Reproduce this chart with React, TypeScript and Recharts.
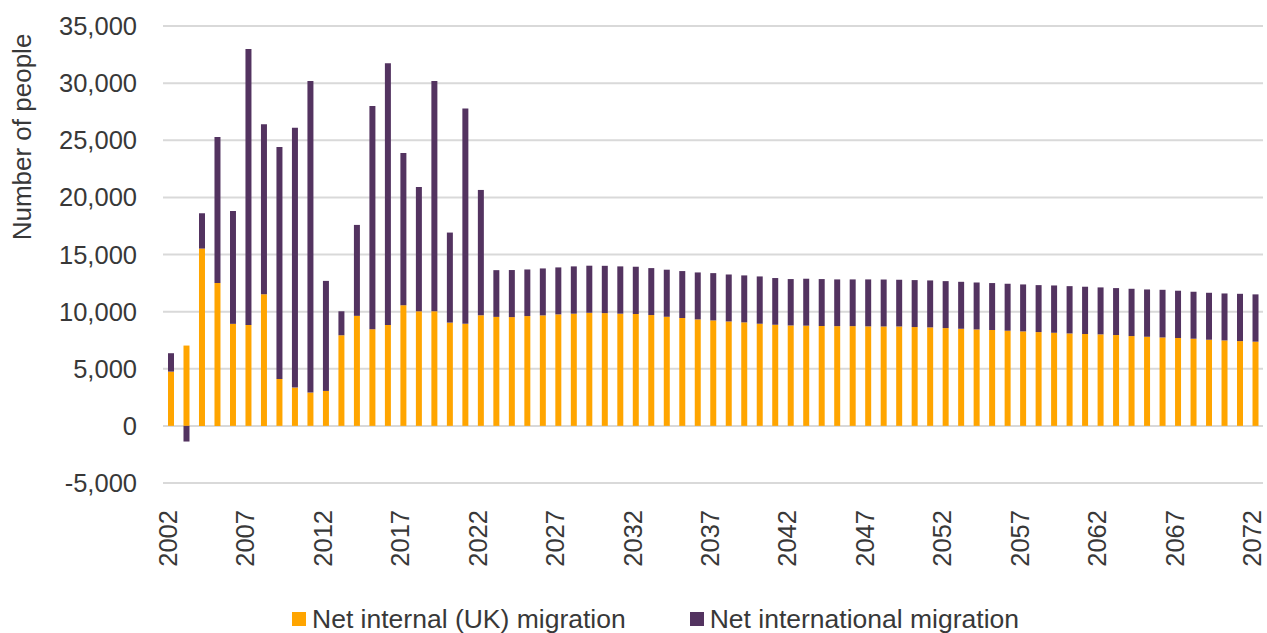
import React from 'react';
import {
  BarChart,
  Bar,
  XAxis,
  YAxis,
  CartesianGrid,
  Legend,
} from 'recharts';

const firstYear = 2002;
const lastYear = 2072;
const years = Array.from({ length: lastYear - firstYear + 1 }, (_, i) => String(firstYear + i));

// Net internal (UK) migration, 2002-2072
const internal = [
  4750, 7030, 15520, 12510, 8930, 8840, 11520, 4110, 3350, 2920,
  3060, 7930, 9630, 8460, 8840, 10560, 10030, 10030, 9040, 8930,
  9680, 9540, 9520, 9610, 9670, 9760, 9820, 9900, 9870, 9820,
  9790, 9700, 9550, 9440, 9320, 9230, 9140, 9060, 8940, 8850,
  8790, 8770, 8740, 8730, 8730, 8710, 8700, 8700, 8650, 8620,
  8560, 8500, 8440, 8390, 8330, 8270, 8210, 8150, 8090, 8040,
  8010, 7950, 7860, 7800, 7740, 7690, 7630, 7540, 7480, 7420,
  7370,
];

// Net international migration, 2002-2072
const international = [
  1610, -1370, 3090, 12780, 9880, 24150, 14880, 20300, 22750, 27270,
  9630, 2100, 7960, 19540, 22890, 13330, 10880, 20160, 7880, 18840,
  10970, 4090, 4120, 4080, 4110, 4110, 4140, 4120, 4140, 4140,
  4140, 4110, 4120, 4110, 4110, 4140, 4110, 4110, 4140, 4090,
  4060, 4110, 4110, 4090, 4090, 4110, 4110, 4090, 4110, 4110,
  4110, 4110, 4110, 4110, 4110, 4110, 4110, 4140, 4140, 4140,
  4110, 4110, 4140, 4140, 4170, 4140, 4110, 4110, 4110, 4140,
  4140,
];

const yTicks = [-5000, 0, 5000, 10000, 15000, 20000, 25000, 30000, 35000];

const seriesNames = {
  internal: 'Net internal (UK) migration',
  international: 'Net international migration',
};

const ORANGE = '#FFA500';
const PURPLE = '#533360';
const TEXT = '#383838';
const FONT = '"Liberation Sans", Arial, sans-serif';

const data = years.map((year, i) => ({
  year,
  internal: internal[i],
  international: international[i],
}));

const YearTick = (props: any) => {
  const { x, y, payload } = props;
  const tx = x + 6;
  const ty = y + 19;
  return (
    <text
      x={tx}
      y={ty}
      transform={`rotate(-90, ${tx}, ${ty})`}
      textAnchor="end"
      fill={TEXT}
      fontSize={25.5}
      fontFamily={FONT}
    >
      {payload.value}
    </text>
  );
};

const YTitle = () => (
  <text
    x={31}
    y={137}
    transform="rotate(-90, 31, 137)"
    textAnchor="middle"
    fill={TEXT}
    fontSize={26}
    fontFamily={FONT}
  >
    Number of people
  </text>
);

const LegendContent = () => (
  <div
    style={{
      display: 'flex',
      alignItems: 'center',
      height: 28,
      paddingLeft: 292,
      fontFamily: FONT,
      fontSize: 26.5,
      color: TEXT,
    }}
  >
    <span style={{ display: 'inline-block', width: 14, height: 14, background: ORANGE, marginRight: 6 }} />
    <span style={{ marginRight: 64 }}>{seriesNames.internal}</span>
    <span style={{ display: 'inline-block', width: 14, height: 14, background: PURPLE, marginRight: 6 }} />
    <span>{seriesNames.international}</span>
  </div>
);

export default function App() {
  return (
    <div style={{ position: 'absolute', left: 0, top: 0, width: 1267, height: 633, background: '#fff' }}>
      <BarChart
        width={1267}
        height={633}
        data={data}
        stackOffset="sign"
        barSize={6}
        margin={{ top: 26, right: 4, left: 0, bottom: 0 }}
      >
        <CartesianGrid vertical={false} stroke="#d9d9d9" strokeWidth={2} />
        <XAxis
          dataKey="year"
          interval={4}
          axisLine={false}
          tickLine={false}
          height={122}
          tick={<YearTick />}
        />
        <YAxis
          domain={[-5000, 35000]}
          ticks={yTicks}
          width={163}
          axisLine={false}
          tickLine={false}
          tickSize={0}
          tickMargin={26}
          tickFormatter={(v: number) => v.toLocaleString('en-US')}
          tick={{ fill: TEXT, fontSize: 25.5, fontFamily: FONT }}
          label={<YTitle />}
        />
        <Legend verticalAlign="bottom" content={<LegendContent />} />
        <Bar dataKey="internal" stackId="m" fill={ORANGE} isAnimationActive={false} />
        <Bar dataKey="international" stackId="m" fill={PURPLE} isAnimationActive={false} />
      </BarChart>
    </div>
  );
}
